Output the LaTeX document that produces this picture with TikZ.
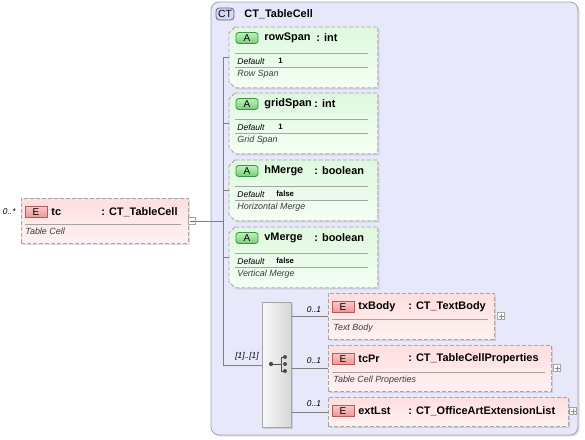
\documentclass[tikz,border=0pt]{standalone}
\usepackage{fontspec}
\setmainfont{Liberation Sans}
\usetikzlibrary{shadows,positioning,calc}

\definecolor{ctfill}{RGB}{232,232,251}
\definecolor{ctline}{RGB}{160,160,176}
\definecolor{ctbadgefill}{RGB}{214,214,246}
\definecolor{ctbadgeline}{RGB}{100,100,150}
\definecolor{attrtop}{RGB}{222,248,222}
\definecolor{attrbot}{RGB}{244,255,244}
\definecolor{abadgetop}{RGB}{190,240,190}
\definecolor{abadgebot}{RGB}{120,205,120}
\definecolor{abadgeline}{RGB}{60,150,60}
\definecolor{elemtop}{RGB}{255,222,222}
\definecolor{elembot}{RGB}{255,242,242}
\definecolor{ebadgetop}{RGB}{250,200,200}
\definecolor{ebadgebot}{RGB}{236,150,150}
\definecolor{ebadgeline}{RGB}{180,90,90}
\definecolor{boxline}{RGB}{165,165,165}
\definecolor{linegray}{RGB}{128,128,128}
\definecolor{desctext}{RGB}{60,60,60}

% chamfered outline round an attribute node
\newcommand{\attrframe}[1]{%
  \path[attrfill] ($(#1.north west)+(6,0)$) -- (#1.north east) -- (#1.south east)
    -- ($(#1.south west)+(6,0)$) -- ($(#1.south west)+(0,-6)$) -- ($(#1.north west)+(0,6)$) -- cycle;}

\begin{document}
\begin{tikzpicture}[x=0.75pt, y=-0.75pt, line width=0.6pt,
  conn/.style={draw=linegray, line width=0.6pt},
  divider/.style={draw=boxline, line width=0.6pt},
  boxshadow/.style={drop shadow={shadow xshift=1.2pt, shadow yshift=-1.2pt, opacity=0.25, fill=gray}},
  attrbox/.style={rectangle, minimum width={148*0.75pt}, minimum height={60*0.75pt}, inner sep=0pt, anchor=north west},
  attrfill/.style={draw=boxline, dash pattern=on 3pt off 1.5pt, top color=attrtop, bottom color=attrbot, boxshadow},
  elembox/.style={rectangle, draw=boxline, dash pattern=on 3pt off 1.5pt, top color=elemtop, bottom color=elembot,
    inner sep=0pt, anchor=north west, boxshadow},
  abadge/.style={rounded corners=2pt, draw=abadgeline, top color=abadgetop, bottom color=abadgebot,
    minimum width={22*0.75pt}, minimum height={11*0.75pt}, inner sep=0pt, font=\fontsize{7.5}{8}\selectfont},
  ebadge/.style={draw=ebadgeline, top color=ebadgetop, bottom color=ebadgebot,
    minimum width={22*0.75pt}, minimum height={11*0.75pt}, inner sep=0pt, font=\fontsize{7.5}{8}\selectfont},
  ctbadge/.style={rounded corners=2.5pt, draw=ctbadgeline, fill=ctbadgefill,
    minimum width={18*0.75pt}, minimum height={12*0.75pt}, inner sep=0pt, font=\fontsize{7.8}{8}\selectfont},
  lbl/.style={anchor=west, inner sep=0pt, font=\fontsize{8.2}{10}\selectfont\bfseries},
  dflt/.style={anchor=west, inner sep=0pt, font=\fontsize{6.4}{7}\selectfont\itshape},
  dval/.style={anchor=west, inner sep=0pt, font=\fontsize{5.8}{7}\selectfont\bfseries},
  desc/.style={anchor=west, inner sep=0pt, text=desctext, font=\fontsize{6.7}{8}\selectfont\itshape},
  mult/.style={inner sep=0pt, font=\fontsize{6.3}{7}\selectfont\itshape},
  pm/.style={draw=boxline, fill=white, minimum size={7*0.75pt}, inner sep=0pt, line width=0.5pt},
]

\useasboundingbox (0,0) rectangle (585,439);

% complex type frame
\draw[draw=ctline, fill=ctfill, rounded corners=6pt, boxshadow] (211,2) rectangle (578,435);
\node[ctbadge] (ctbadge) at (225,14) {CT};
\node[lbl] (ctname) at (244,14) {CT\_TableCell};

% attributes
\node[attrbox] (rowspan) at (229,27) {};
\attrframe{rowspan}
\node[abadge] (rowspanA) at (247,38) {A};
\node[lbl] (rowspanN) at (264,38) {rowSpan};
\node[lbl] (rowspanT) at (316,38) {: int};
\draw[divider] (235,53) -- (368,53);
\node[dflt] (rowspanD) at (237,61) {Default};
\node[dval] (rowspanV) at (278,61) {1};
\draw[divider] (235,67) -- (368,67);
\node[desc] (rowspanX) at (237,74) {Row Span};

\node[attrbox] (gridspan) at (229,93) {};
\attrframe{gridspan}
\node[abadge] (gridspanA) at (247,104) {A};
\node[lbl] (gridspanN) at (264,104) {gridSpan};
\node[lbl] (gridspanT) at (314,104) {: int};
\draw[divider] (235,119) -- (368,119);
\node[dflt] (gridspanD) at (237,127) {Default};
\node[dval] (gridspanV) at (278,127) {1};
\draw[divider] (235,133) -- (368,133);
\node[desc] (gridspanX) at (237,140) {Grid Span};

\node[attrbox] (hmerge) at (229,160) {};
\attrframe{hmerge}
\node[abadge] (hmergeA) at (247,171) {A};
\node[lbl] (hmergeN) at (264,171) {hMerge};
\node[lbl] (hmergeT) at (314,171) {: boolean};
\draw[divider] (235,186) -- (368,186);
\node[dflt] (hmergeD) at (237,194) {Default};
\node[dval] (hmergeV) at (276,194) {false};
\draw[divider] (235,200) -- (368,200);
\node[desc] (hmergeX) at (237,207) {Horizontal Merge};

\node[attrbox] (vmerge) at (229,227) {};
\attrframe{vmerge}
\node[abadge] (vmergeA) at (247,238) {A};
\node[lbl] (vmergeN) at (264,238) {vMerge};
\node[lbl] (vmergeT) at (314,238) {: boolean};
\draw[divider] (235,253) -- (368,253);
\node[dflt] (vmergeD) at (237,261) {Default};
\node[dval] (vmergeV) at (276,261) {false};
\draw[divider] (235,267) -- (368,267);
\node[desc] (vmergeX) at (237,274) {Vertical Merge};

% sequence compositor
\node[rectangle, draw=boxline, left color=gray!6, right color=gray!32, inner sep=0pt,
  minimum width={29*0.75pt}, minimum height={125*0.75pt}, anchor=north west, boxshadow] (seq) at (262,302) {};
\draw[draw=black!70, line width=0.6pt] (271,364) -- (281,364) (281,357) -- (281,371)
  (281,357) -- (285,357) (281,371) -- (285,371);
\fill[black!70] (271,364) circle (1.6pt) (285,357) circle (1.5pt) (285,364) circle (1.5pt) (285,371) circle (1.5pt);
\node[mult, anchor=east] (seqmult) at (259,356) {[1]..[1]};

% parent element
\node[elembox, minimum width={167*0.75pt}, minimum height={45*0.75pt}] (tc) at (21,198) {};
\node[ebadge] (tcE) at (36,212) {E};
\node[lbl] (tcN) at (51,212) {tc};
\node[lbl] (tcT) at (101,212) {: CT\_TableCell};
\draw[divider] (25,224) -- (181,224);
\node[desc] (tcX) at (25,231) {Table Cell};
\node[mult, anchor=east] (tcmult) at (16,212) {0..*};
\node[pm] (tcminus) at (192,221) {};
\draw[draw=black!60, line width=0.5pt] (189.5,221) -- (194.5,221);

% child elements
\node[elembox, minimum width={166*0.75pt}, minimum height={46*0.75pt}] (txbody) at (328,293) {};
\node[ebadge] (txbodyE) at (343,307) {E};
\node[lbl] (txbodyN) at (358,307) {txBody};
\node[lbl] (txbodyT) at (408,307) {: CT\_TextBody};
\draw[divider] (332,319) -- (488,319);
\node[desc] (txbodyX) at (333,328) {Text Body};
\node[pm] (txbodyplus) at (501,316) {};
\draw[draw=black!45, line width=0.5pt] (498.5,316) -- (503.5,316) (501,313.5) -- (501,318.5);

\node[elembox, minimum width={223*0.75pt}, minimum height={46*0.75pt}] (tcpr) at (328,345) {};
\node[ebadge] (tcprE) at (343,359) {E};
\node[lbl] (tcprN) at (358,359) {tcPr};
\node[lbl] (tcprT) at (408,359) {: CT\_TableCellProperties};
\draw[divider] (332,372) -- (545,372);
\node[desc] (tcprX) at (333,380) {Table Cell Properties};
\node[pm] (tcprplus) at (557,368) {};
\draw[draw=black!45, line width=0.5pt] (554.5,368) -- (559.5,368) (557,365.5) -- (557,370.5);

\node[elembox, minimum width={240*0.75pt}, minimum height={29*0.75pt}] (extlst) at (328,397) {};
\node[ebadge] (extlstE) at (343,411) {E};
\node[lbl] (extlstN) at (358,411) {extLst};
\node[lbl] (extlstT) at (408,411) {: CT\_OfficeArtExtensionList};
\node[pm] (extlstplus) at (573,411) {};
\draw[draw=black!45, line width=0.5pt] (570.5,411) -- (575.5,411) (573,408.5) -- (573,413.5);

% connectors
\coordinate (spine) at (223,221);
\draw[conn] (tcminus.east) -- (spine);
\draw[conn] (rowspan.west) -| (seq.west -| spine) -- (seq.west);
\draw[conn] (gridspan.west) -- (gridspan.west -| spine);
\draw[conn] (hmerge.west) -- (hmerge.west -| spine);
\draw[conn] (vmerge.west) -- (vmerge.west -| spine);
\draw[conn] (txbody.west -| seq.east) -- (txbody.west);
\draw[conn] (tcpr.west -| seq.east) -- (tcpr.west);
\draw[conn] (extlst.west -| seq.east) -- (extlst.west);
\node[mult] (txbodymult) at (314,310) {0..1};
\node[mult] (tcprmult) at (314,361) {0..1};
\node[mult] (extlstmult) at (314,404) {0..1};

\end{tikzpicture}
\end{document}
